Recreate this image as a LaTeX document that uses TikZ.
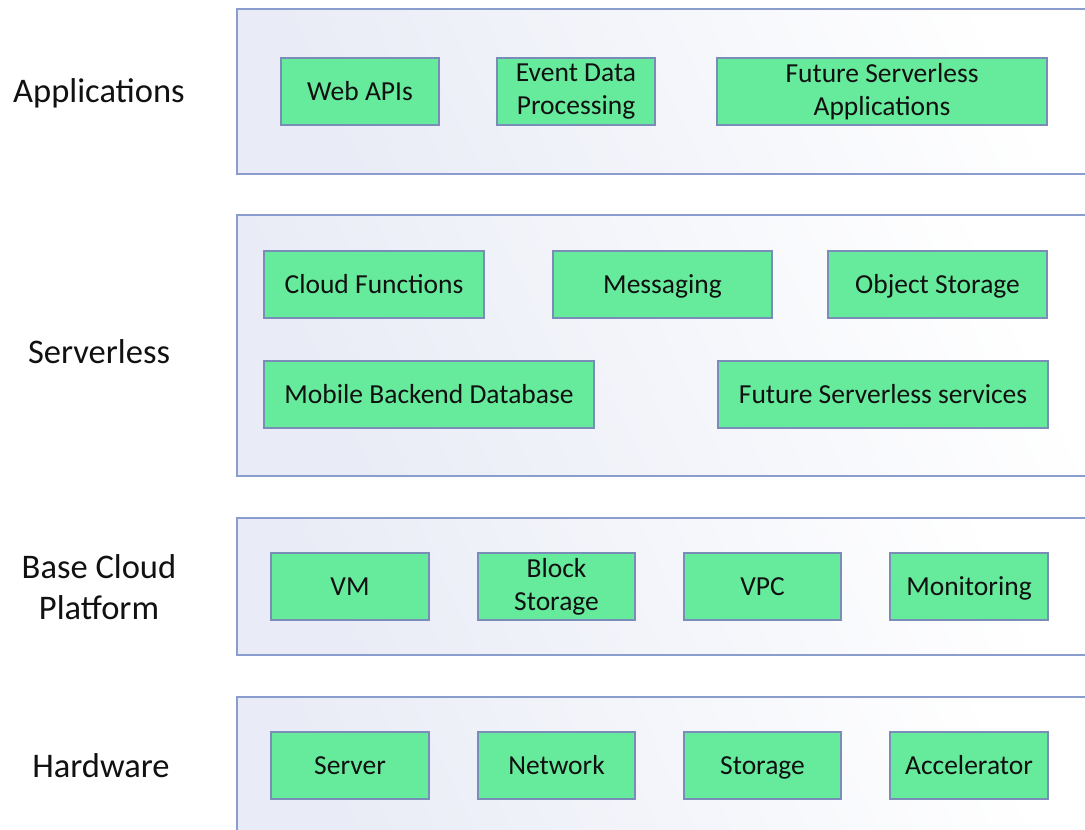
\documentclass[tikz,border=0pt]{standalone}
\usepackage{fontspec}
\setmainfont{Carlito}
\definecolor{layerline}{HTML}{8A9DCC}
\definecolor{layertop}{HTML}{E9ECF6}
\definecolor{cellfill}{HTML}{66EA9C}
\definecolor{cellline}{HTML}{7A8CB8}
\definecolor{labeltext}{HTML}{111111}
\tikzset{
  layerbox/.style={draw=layerline, line width=1.2pt, left color=layertop, right color=white, shading angle=115},
  cell/.style={draw=cellline, fill=cellfill, line width=1.1pt, align=center, inner sep=0pt,
    minimum height=67pt, font=\fontsize{27.5}{33}\selectfont, text=labeltext},
  % one-line cells share a baseline, whatever their letters
  onecell/.style={cell, text height=19pt, text depth=1pt},
  layerlabel/.style={align=center, font=\fontsize{34.5}{41}\selectfont, text=labeltext},
  onelabel/.style={layerlabel, text height=24pt, text depth=1pt}
}
\begin{document}
\begin{tikzpicture}[x=1pt,y=-1pt]
\useasboundingbox (0,0) rectangle (1085,830);
\clip (0,0) rectangle (1085,830);
\fill[white] (0,0) rectangle (1085,830);
% layer frames
\shade[layerbox] (237,9) rectangle (1100,174);
\shade[layerbox] (237,215) rectangle (1100,476);
\shade[layerbox] (237,518) rectangle (1100,655);
\shade[layerbox] (237,697) rectangle (1100,845);
% layer names
\node[onelabel] (lapp) at (99,91) {Applications};
\node[onelabel] (lsl) at (99,352) {Serverless};
\node[layerlabel] (lbase) at (99,587) {Base Cloud\\Platform};
\node[onelabel] (lhw) at (101,766) {Hardware};
% applications
\node[onecell, minimum width=158pt] (webapi) at (360,91.5) {Web APIs};
\node[cell, minimum width=158pt] (event) at (576,91.5) {Event Data\\Processing};
\node[cell, minimum width=330pt] (futapp) at (882,91.5) {Future Serverless\\Applications};
% serverless
\node[onecell, minimum width=220pt] (cfun) at (374,284.5) {Cloud Functions};
\node[onecell, minimum width=219pt] (msg) at (662.5,284.5) {Messaging};
\node[onecell, minimum width=219pt] (obj) at (937.5,284.5) {Object Storage};
\node[onecell, minimum width=330pt] (mbd) at (429,394.5) {Mobile Backend Database};
\node[onecell, minimum width=330pt] (futsvc) at (883,394.5) {Future Serverless services};
% base cloud platform
\node[onecell, minimum width=158pt] (vm) at (350,586.5) {VM};
\node[cell, minimum width=157pt] (blk) at (556.5,586.5) {Block\\Storage};
\node[onecell, minimum width=157pt] (vpc) at (762.5,586.5) {VPC};
\node[onecell, minimum width=158pt] (mon) at (969,586.5) {Monitoring};
% hardware
\node[onecell, minimum width=158pt] (srv) at (350,765.5) {Server};
\node[onecell, minimum width=157pt] (net) at (556.5,765.5) {Network};
\node[onecell, minimum width=157pt] (sto) at (762.5,765.5) {Storage};
\node[onecell, minimum width=158pt] (acc) at (969,765.5) {Accelerator};
\end{tikzpicture}
\end{document}
